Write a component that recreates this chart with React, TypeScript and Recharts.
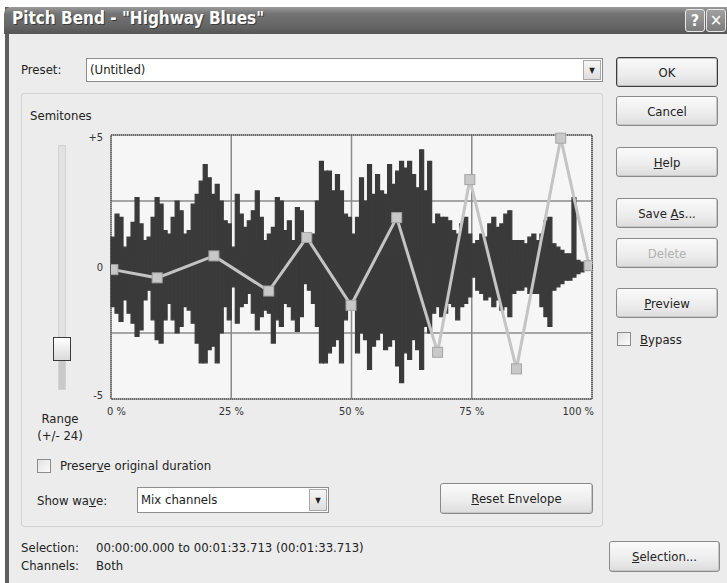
import React from 'react';
import {
  ComposedChart, Bar, Scatter, XAxis, YAxis, CartesianGrid, ReferenceArea,
} from 'recharts';

// waveform peak columns (semitone scale), read left to right, 120 columns
const WAVE_TOP = [
  1.13, 2.0, 1.88, 0.75, 1.13, 1.69, 2.63, 1.63, 1.0, 1.13, 1.88, 2.63, 2.38, 1.38, 1.25, 1.88,
  2.5, 2.13, 1.25, 1.38, 2.38, 2.75, 3.25, 3.88, 3.38, 2.75, 3.13, 2.5, 1.75, 1.63, 0.75,
  2.75, 2.0, 1.5, 1.75, 2.13, 2.88, 1.88, 1.0, 1.25, 1.5, 2.63, 2.5, 1.38, 1.75, 1.0, 2.25,
  2.13, 1.13, 1.0, 1.25, 2.5, 4.0, 3.63, 3.63, 2.88, 3.5, 2.88, 2.0, 1.88, 1.25,
  1.88, 3.38, 2.5, 3.88, 2.75, 3.5, 2.88, 2.75, 3.88, 3.13, 3.63, 4.0, 3.75, 4.0, 3.5, 3.0,
  4.44, 2.88, 4.0, 1.63, 2.0, 1.88, 1.88, 1.75, 1.38, 1.25, 1.63, 1.88, 1.25, 0.88,
  1.0, 1.25, 1.13, 1.63, 1.88, 1.5, 1.63, 2.0, 2.13, 1.0, 1.0, 1.0, 0.88, 1.13, 1.25, 1.0,
  1.25, 1.75, 1.88, 0.88, 0.75, 0.63, 0.5, 0.5, 2.63, 0.25, 0.19, 0.13, 0.06,
];
const WAVE_BOTTOM = [
  -1.5, -1.75, -2.06, -1.25, -1.75, -2.13, -2.63, -2.38, -1.25, -0.88, -2.0, -2.75, -2.88, -2.0, -1.38, -2.0,
  -2.5, -2.25, -1.5, -1.63, -2.13, -2.88, -3.63, -3.63, -3.13, -3.0, -3.63, -2.5, -1.5, -2.0, -0.75,
  -2.13, -1.5, -1.38, -1.0, -1.75, -2.38, -1.88, -1.63, -1.75, -2.88, -2.0, -2.25, -1.38, -1.5, -2.0, -2.44,
  -1.88, -0.63, -0.88, -1.38, -2.25, -3.63, -3.63, -3.25, -3.0, -2.75, -3.63, -2.0, -1.5, -1.5,
  -3.25, -2.5, -2.75, -3.88, -3.0, -2.75, -2.5, -3.13, -3.0, -2.75, -3.75, -4.38, -3.25, -3.5, -2.75, -3.13,
  -3.88, -2.25, -2.5, -1.75, -1.5, -1.88, -1.75, -1.38, -1.5, -2.0, -1.5, -1.38, -1.13, -0.38,
  -0.88, -1.0, -1.25, -1.13, -1.5, -1.25, -1.63, -1.5, -1.88, -1.0, -0.88, -0.88, -0.75, -1.0, -1.0, -1.0,
  -1.5, -1.88, -2.25, -0.88, -0.75, -0.63, -0.5, -0.5, -0.38, -0.25, -0.19, -0.13, -0.06,
];

// pitch bend envelope nodes: position (% of selection) and semitones
const ENV_POS = [0.4, 9.6, 21.4, 32.8, 40.7, 49.9, 59.4, 67.9, 74.6, 84.3, 93.5, 99.4];
const ENV_SEMITONES = [-0.1, -0.41, 0.42, -0.91, 1.12, -1.45, 1.87, -3.23, 3.31, -3.86, 4.88, 0.05];

const X_TICKS = [0, 25, 50, 75, 100];
const Y_TICKS = [-5, -2.5, 0, 2.5, 5];
const Y_LABELS: Record<string, string> = { '5': '+5', '0': '0', '-5': '-5' };

const waveRows = WAVE_TOP.map((top, i) => ({ col: i, wave: [WAVE_BOTTOM[i], top] }));
const envRows = ENV_POS.map((x, i) => ({ x, y: ENV_SEMITONES[i] }));

const FONT = '"DejaVu Sans Condensed", "DejaVu Sans", sans-serif';
const WAVE = '#3a3a3a';

const XTick = (props: any) => {
  const { x, y, payload } = props;
  const v = payload.value;
  let anchor = 'middle';
  let dx = 0;
  if (v === 0) { anchor = 'start'; dx = -4; }
  if (v === 100) { anchor = 'end'; dx = 2; }
  return (
    <text x={x + dx} y={y + 8} textAnchor={anchor} fontSize={11} fontFamily={FONT} fill="#333">
      {v} %
    </text>
  );
};

const YTick = (props: any) => {
  const { y, payload } = props;
  const label = Y_LABELS[String(payload.value)];
  if (!label) return null;
  const dy = payload.value === 5 ? 6 : payload.value === -5 ? 0 : 4;
  return (
    <text x={23} y={y + dy} textAnchor="end" fontSize={11} fontFamily={FONT} fill="#333">
      {label}
    </text>
  );
};

const EnvNode = (props: any) => {
  const { cx, cy } = props;
  return <rect x={cx - 5} y={cy - 5} width={10} height={10} fill="#c8c8c8" stroke="#a4a4a4" strokeWidth={1} />;
};

const abs = (left: number, top: number, width?: number, height?: number): React.CSSProperties => ({
  position: 'absolute', left, top, width, height,
});

const Btn = ({ x, y, w, h, children, disabled, def }: any) => (
  <div style={{
    ...abs(x, y, w, h), boxSizing: 'border-box', borderRadius: 3,
    border: def ? '1px solid #3c3c3c' : '1px solid #8a8a8a',
    boxShadow: def ? 'inset 0 0 0 1px #bdbdbd' : 'inset -1px -1px 0 #c6c6c6',
    background: 'linear-gradient(#fafafa, #ececec 60%, #dcdcdc)',
    color: disabled ? '#b0b0b0' : '#222', fontSize: 13, display: 'flex',
    alignItems: 'center', justifyContent: 'center',
  }}>{children}</div>
);

const Check = ({ x, y }: any) => (
  <div style={{
    ...abs(x, y, 14, 14), boxSizing: 'border-box', border: '1px solid #8c8c8c',
    background: 'linear-gradient(135deg, #e2e2e2, #fbfbfb)',
  }} />
);

const Combo = ({ x, y, w, h, text }: any) => (
  <div style={{
    ...abs(x, y, w, h), boxSizing: 'border-box', border: '1px solid #8c8c8c',
    background: '#fff', fontSize: 13, color: '#222',
  }}>
    <div style={{ position: 'absolute', left: 3, top: 0, lineHeight: `${h - 2}px` }}>{text}</div>
    <div style={{
      position: 'absolute', right: 1, top: 1, width: 18, bottom: 1, boxSizing: 'border-box',
      border: '1px solid #a8a8a8', background: 'linear-gradient(#f6f6f6, #dedede)',
      display: 'flex', alignItems: 'center', justifyContent: 'center', fontSize: 8, color: '#222',
    }}>▼</div>
  </div>
);

const Label = ({ x, y, children, color }: any) => (
  <div style={{ ...abs(x, y), fontSize: 13, color: color || '#222', whiteSpace: 'nowrap' }}>{children}</div>
);

export default function App() {
  return (
    <div style={{
      position: 'absolute', left: 0, top: 0, width: 727, height: 583, overflow: 'hidden',
      background: '#fff', fontFamily: FONT,
    }}>
      {/* window frame */}
      <div style={{ ...abs(5, 7, 722, 576), background: '#ececec', borderLeft: '4px solid #5f5f5f', boxSizing: 'border-box' }} />
      <div style={{
        ...abs(4, 7, 723, 27), borderTopLeftRadius: 7,
        background: 'linear-gradient(#9a9a9a, #737373 25%, #666 70%, #555)',
      }} />
      <div style={{
        ...abs(12, 8), fontSize: 17, fontWeight: 'bold', color: '#fff',
        textShadow: '1px 1px 0 #3a3a3a', whiteSpace: 'nowrap',
      }}>Pitch Bend - "Highway Blues"</div>
      {['?', '✕'].map((g, i) => (
        <div key={g} style={{
          ...abs(685 + i * 21, 9, 20, 23), boxSizing: 'border-box', border: '1px solid #e8e8e8',
          borderRadius: 3, background: 'linear-gradient(#a0a0a0, #7c7c7c)', color: '#fff',
          fontSize: 16, fontWeight: 'bold', display: 'flex', alignItems: 'center', justifyContent: 'center',
        }}>{g}</div>
      ))}

      {/* preset row */}
      <Label x={21} y={62}>Preset:</Label>
      <Combo x={86} y={58} w={517} h={24} text="(Untitled)" />

      {/* right buttons */}
      <Btn x={616} y={57} w={102} h={30} def>OK</Btn>
      <Btn x={616} y={96} w={102} h={30}>Cancel</Btn>
      <Btn x={616} y={147} w={102} h={30}><span><u>H</u>elp</span></Btn>
      <Btn x={616} y={198} w={102} h={30}><span>Save <u>A</u>s...</span></Btn>
      <Btn x={616} y={238} w={102} h={30} disabled>Delete</Btn>
      <Btn x={616} y={288} w={102} h={30}><span><u>P</u>review</span></Btn>
      <Check x={617} y={332} />
      <Label x={640} y={332}><u>B</u>ypass</Label>

      {/* group box */}
      <div style={{ ...abs(21, 93, 582, 434), boxSizing: 'border-box', border: '1px solid #d2d2d2', borderRadius: 3 }} />
      <Label x={30} y={108}>Semitones</Label>

      {/* range slider */}
      <div style={{ ...abs(58, 145, 8, 245), boxSizing: 'border-box', border: '1px solid #d2d2d2', background: '#e2e2e2' }} />
      <div style={{ ...abs(59, 360, 6, 29), background: '#c9c9c9' }} />
      <div style={{
        ...abs(53, 337, 18, 24), boxSizing: 'border-box', border: '1px solid #3a3a3a',
        background: 'linear-gradient(#ffffff, #dadada)',
      }} />
      <div style={{ ...abs(28, 410, 64), textAlign: 'center', fontSize: 13, color: '#222', lineHeight: '17px' }}>
        Range<br />(+/- 24)
      </div>

      {/* envelope chart */}
      <div style={abs(80, 125, 530, 300)}>
        <ComposedChart
          width={530}
          height={300}
          data={waveRows}
          margin={{ top: 10, right: 18, bottom: 0, left: 0 }}
          barCategoryGap={0}
          barGap={0}
        >
          <CartesianGrid
            xAxisId="pct"
            yAxisId="val"
            fill="#f6f6f6"
            stroke="#8a8a8a"
            strokeWidth={1.5}
          />
          <XAxis xAxisId="wave" dataKey="col" type="category" hide />
          <XAxis
            xAxisId="pct"
            dataKey="x"
            type="number"
            domain={[0, 100]}
            ticks={X_TICKS}
            allowDataOverflow
            axisLine={false}
            tickLine={false}
            height={26}
            tick={<XTick />}
          />
          <YAxis
            yAxisId="val"
            type="number"
            domain={[-5, 5]}
            ticks={Y_TICKS}
            allowDataOverflow
            axisLine={false}
            tickLine={false}
            width={31}
            tick={<YTick />}
          />
          <YAxis yAxisId="env" dataKey="y" type="number" domain={[-5, 5]} hide />
          <Bar
            xAxisId="wave"
            yAxisId="val"
            dataKey="wave"
            fill={WAVE}
            stroke={WAVE}
            strokeWidth={1.2}
            isAnimationActive={false}
          />
          <Scatter
            xAxisId="pct"
            yAxisId="env"
            data={envRows}
            dataKey="y"
            line={{ stroke: '#c4c4c4', strokeWidth: 3 }}
            shape={<EnvNode />}
            isAnimationActive={false}
          />
          <ReferenceArea
            xAxisId="pct"
            yAxisId="val"
            x1={0}
            x2={100}
            y1={-5}
            y2={5}
            fill="none"
            stroke="#333"
            strokeDasharray="1 1"
            ifOverflow="visible"
          />
        </ComposedChart>
      </div>

      {/* lower controls */}
      <Check x={37} y={459} />
      <Label x={60} y={458}>Preser<u>v</u>e original duration</Label>
      <Label x={37} y={493}>Show wa<u>v</u>e:</Label>
      <Combo x={137} y={487} w={192} h={26} text="Mix channels" />
      <Btn x={440} y={483} w={153} h={31}><span><u>R</u>eset Envelope</span></Btn>

      {/* status */}
      <Label x={21} y={540}>Selection:</Label>
      <Label x={96} y={540}>00:00:00.000 to 00:01:33.713 (00:01:33.713)</Label>
      <Label x={21} y={558}>Channels:</Label>
      <Label x={96} y={558}>Both</Label>
      <Btn x={609} y={541} w={111} h={31}><span><u>S</u>election...</span></Btn>
    </div>
  );
}
